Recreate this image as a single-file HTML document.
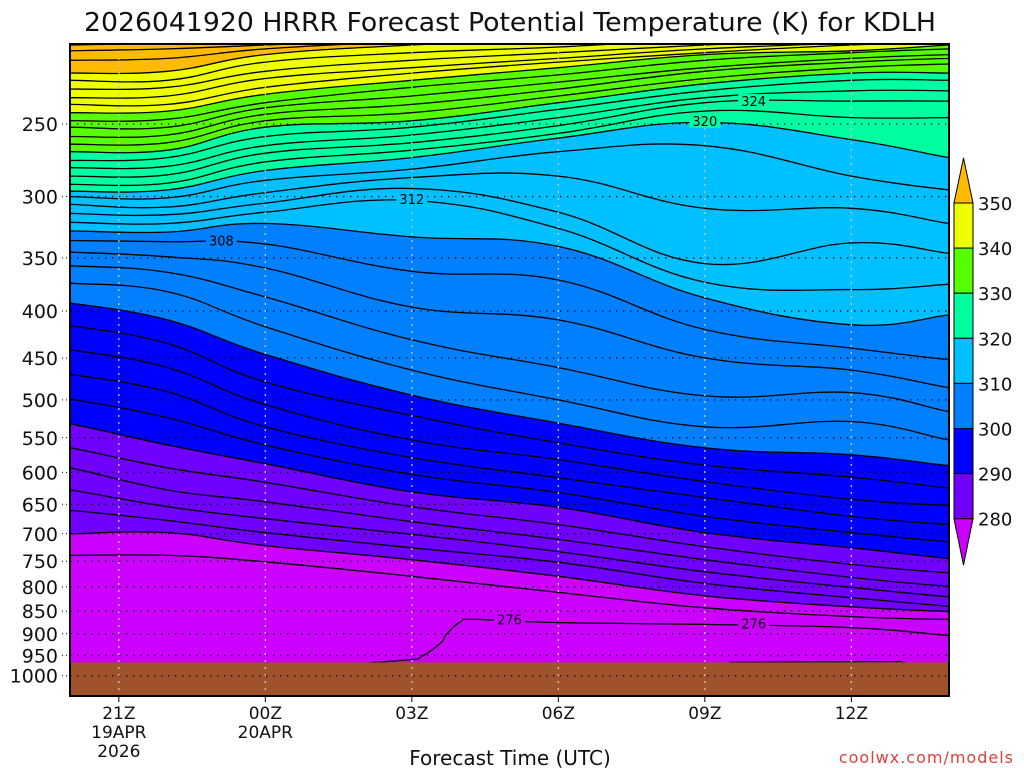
<!DOCTYPE html>
<html><head><meta charset="utf-8"><title>HRRR Potential Temperature KDLH</title>
<style>
html,body{margin:0;padding:0;background:#fff;}
svg{display:block;font-family:"DejaVu Sans","Liberation Sans",sans-serif;}
</style></head>
<body>
<svg id="chart" width="1024" height="768" viewBox="0 0 1024 768" xmlns="http://www.w3.org/2000/svg">
<defs><clipPath id="plotclip"><rect x="70" y="44" width="879" height="652"/></clipPath></defs>
<text x="510" y="31" text-anchor="middle" font-size="26" textLength="852" lengthAdjust="spacingAndGlyphs" fill="#111">2026041920 HRRR Forecast Potential Temperature (K) for KDLH</text>
<g id="fills" clip-path="url(#plotclip)"></g>
<g id="lines" clip-path="url(#plotclip)"></g>
<g id="grid"></g>
<g id="labels"></g>
<rect x="70" y="44" width="879" height="652" fill="none" stroke="#000" stroke-width="2"/>
<g id="yaxis"></g>
<g id="xaxis"></g>
<g id="cbar"></g>
<text x="510" y="765" text-anchor="middle" font-size="20" fill="#111">Forecast Time (UTC)</text>
<text x="1014" y="763" text-anchor="end" font-size="16" fill="#e0403a" letter-spacing="1">coolwx.com/models</text>
</svg>
<script>
// ---- data ----
const nodeHours = [0, 2, 4, 7, 10, 13, 16, 18];   // hours after 20Z 19 Apr
const levels = [356,354,352,350,348,346,344,342,340,338,336,334,332,330,328,326,324,322,320,318,316,314,312,310,308,306,304,302,300,298,296,294,292,290,288,286,284,282,280,278];
const isentropePressure = [
 [205,204,202,200,197,196,195,194],
 [208,207,205,202,199,197,196,195],
 [213,212,207,203,200,199,197,196],
 [220,219,210,205,202,200,199,197],
 [224,224,214,209,206,202,200,199],
 [229,228,219,213,209,205,202,201],
 [234,233,223,217,212,207,204,203],
 [238,238,228,220,214,209,205,204],
 [243,242,232,224,217,210,208,205],
 [248,247,237,228,221,213,209,207],
 [252,252,240,233,225,217,212,210],
 [258,257,244,238,229,219,214,212],
 [263,262,248,243,233,223,217,215],
 [268,267,252,248,237,226,220,220],
 [274,272,258,252,241,230,224,224],
 [279,278,264,257,246,234,230,230],
 [285,284,269,262,251,237,236,236],
 [291,290,275,267,256,242,246,246],
 [296,295,281,272,259,249,260,272],
 [300,301,288,280,268,264,285,295],
 [306,308,297,286,285,309,309,321],
 [313,314,305,294,312,355,337,346],
 [320,321,312,303,325,372,379,374],
 [327,328,321,332,340,387,414,404],
 [335,336,338,362,370,419,439,452],
 [345,349,359,396,409,450,464,485],
 [357,363,386,430,461,495,491,515],
 [373,381,416,464,500,535,528,553],
 [392,409,446,494,530,564,574,590],
 [415,434,478,520,557,589,607,624],
 [441,461,506,553,581,614,642,652],
 [469,490,535,578,608,639,670,684],
 [499,523,560,603,631,670,698,714],
 [531,560,587,630,655,698,725,745],
 [564,593,615,654,684,723,756,772],
 [593,627,646,679,710,747,781,799],
 [627,654,674,701,732,770,801,820],
 [660,677,698,725,752,793,822,840],
 [700,698,721,747,779,818,841,851],
 [739,739,751,779,811,843,862,868]
];
const hours276 = [5.9,7.0,7.2,7.6,7.7,8.0,8.3,10,13,16,18];
const press276 = [970,960,953,920,902,873,868,875,879,886,904];
const hours274 = [13.5,15,17.0,17.1,17.2];
const press274 = [967,966,965,968,977];
const groundPressure = 967;
const bandLevels = [280,290,300,310,320,330,340,350];
const bandColors = ["#7000ff","#0000ff","#0080ff","#00c0ff","#00ffa0","#55ff00","#eeff00","#ffbb00"];
const belowColor = "#cc00ff";
const pressureTicks = [250,300,350,400,450,500,550,600,650,700,750,800,850,900,950,1000];
const timeTickHours = [1,4,7,10,13,16];
const timeTickLabels = [["21Z","19APR","2026"],["00Z","20APR"],["03Z"],["06Z"],["09Z"],["12Z"]];
const cbarLabels = [350,340,330,320,310,300,290,280];
const contourLabelText = ["324","320","312","308","276","276"];
const contourLabelHour = [14.0,13.0,7.0,3.1,9.0,14.0];
const contourLabelPress = [236,248,302,335,868,877];

// ---- axes ----
const X0=70, X1=949, Y0=44, Y1=696;
function xOf(h){ return X0 + h*(X1-X0)/18; }
function yOf(p){ return 124 + 398*Math.log(p/250); }
const NS="http://www.w3.org/2000/svg";
function mk(tag, attrs, parent){ const e=document.createElementNS(NS,tag); for(const k in attrs) e.setAttribute(k,attrs[k]); parent.appendChild(e); return e; }
function ptArr(hs, ps){ return hs.map((h,i)=>[xOf(h), yOf(ps[i])]); }
// Catmull-Rom smoothing -> cubic bezier segments (without initial M)
function smoothSeg(P){
  let s="";
  for(let i=0;i<P.length-1;i++){
    const p0=P[Math.max(0,i-1)], p1=P[i], p2=P[i+1], p3=P[Math.min(P.length-1,i+2)];
    const t=0.2;
    const c1=[p1[0]+(p2[0]-p0[0])*t, p1[1]+(p2[1]-p0[1])*t];
    const c2=[p2[0]-(p3[0]-p1[0])*t, p2[1]-(p3[1]-p1[1])*t];
    s+=` C${c1[0].toFixed(1)},${c1[1].toFixed(1)} ${c2[0].toFixed(1)},${c2[1].toFixed(1)} ${p2[0].toFixed(1)},${p2[1].toFixed(1)}`;
  }
  return s;
}
function extend(P){ const a=P[0], b=P[P.length-1]; return [[a[0]-20,a[1]], ...P, [b[0]+20,b[1]]]; }

const fills=document.getElementById('fills'), lines=document.getElementById('lines');
let bg = mk('rect',{x:X0,y:Y0,width:X1-X0,height:Y1-Y0,fill:belowColor},fills);


bandLevels.forEach((lv,bi)=>{
  const row = isentropePressure[levels.indexOf(lv)];
  const P = extend(ptArr(nodeHours,row));
  const d = `M${P[0][0]},${P[0][1]}`+smoothSeg(P)+` L${P[P.length-1][0]},0 L${P[0][0]},0 Z`;
  const el = mk('path',{d:d,fill:bandColors[bi]},fills);
  
  
});
levels.forEach((lv,i)=>{
  const P = extend(ptArr(nodeHours,isentropePressure[i]));
  const el = mk('path',{d:`M${P[0][0]},${P[0][1]}`+smoothSeg(P),fill:"none",stroke:"#000","stroke-width":1.3},lines);
  
  
});
const P276=ptArr(hours276,press276);
let l276 = mk('path',{d:`M${P276[0][0]},${P276[0][1]}`+smoothSeg(P276),fill:"none",stroke:"#000","stroke-width":1.3},lines);


let l274 = mk('polyline',{points:ptArr(hours274,press274).map(p=>p.join(",")).join(" "),fill:"none",stroke:"#000","stroke-width":1.2},lines);


let gr = mk('rect',{x:X0,y:yOf(groundPressure),width:X1-X0,height:Y1-yOf(groundPressure),fill:"#a0522d"},lines);



// grid
const grid=document.getElementById('grid');
pressureTicks.forEach(p=>{
  const y=yOf(p);
  const g=mk('line',{x1:X0,x2:X1,y1:y,y2:y,stroke:"#000","stroke-width":1.3,"stroke-dasharray":"1.3,5.7"},grid);
  
  
});
timeTickHours.forEach(h=>{
  const x=xOf(h);
  const g=mk('line',{x1:x,x2:x,y1:Y0,y2:Y1,stroke:"#c8c8c8","stroke-width":1.3,"stroke-dasharray":"2,5"},grid);
  
  
});

// contour labels
function colorAt(hour,p){
  let c=belowColor;
  bandLevels.forEach((lv,bi)=>{
    const row=isentropePressure[levels.indexOf(lv)];
    let k=0; while(k<nodeHours.length-2 && nodeHours[k+1]<hour) k++;
    const f=(hour-nodeHours[k])/(nodeHours[k+1]-nodeHours[k]);
    const pl=row[k]+(row[k+1]-row[k])*f;
    if(p<pl) c=bandColors[bi];
  });
  return c;
}
const labs=document.getElementById('labels');
contourLabelText.forEach((t,i)=>{
  const x=xOf(contourLabelHour[i]), y=yOf(contourLabelPress[i]);
  const w=t.length*9+4;
  const r=mk('rect',{x:x-w/2,y:y-7,width:w,height:14,fill:colorAt(contourLabelHour[i],contourLabelPress[i])},labs);
  
  
  const tx=mk('text',{x:x,y:y+5,"text-anchor":"middle","font-size":13,fill:"#000"},labs);
  tx.textContent=t;
  
  
});

// y axis
const ya=document.getElementById('yaxis');
pressureTicks.forEach(p=>{
  const y=yOf(p);
  const t=mk('text',{x:58,y:y+7,"text-anchor":"end","font-size":19,fill:"#111"},ya);
  t.textContent=String(p);
  
  
  const tk=mk('line',{x1:62,x2:70,y1:y,y2:y,stroke:"#000","stroke-width":1,"stroke-dasharray":"1,3"},ya);
  
  
});
// x axis
const xa=document.getElementById('xaxis');
timeTickHours.forEach((h,i)=>{
  const x=xOf(h);
  const tk=mk('line',{x1:x,x2:x,y1:Y1,y2:Y1+6,stroke:"#000","stroke-width":1},xa);
  
  
  timeTickLabels[i].forEach((s,j)=>{
    const t=mk('text',{x:x,y:719+j*19,"text-anchor":"middle","font-size":17,fill:"#111"},xa);
    t.textContent=s;
    
    
  });
});
// colorbar
const cb=document.getElementById('cbar');
const cbX=954, cbW=19, cbTop=203, cbStep=45.1;
const up=mk('polygon',{points:`${cbX},${cbTop} ${cbX+cbW},${cbTop} ${cbX+cbW/2},158`,fill:bandColors[7],stroke:"#000","stroke-width":1},cb);


for(let i=0;i<7;i++){
  const r=mk('rect',{x:cbX,y:cbTop+i*cbStep,width:cbW,height:cbStep,fill:bandColors[6-i],stroke:"#000","stroke-width":1},cb);
  
  
}
const dn=mk('polygon',{points:`${cbX},${cbTop+7*cbStep} ${cbX+cbW},${cbTop+7*cbStep} ${cbX+cbW/2},565`,fill:belowColor,stroke:"#000","stroke-width":1},cb);


cbarLabels.forEach((v,i)=>{
  const t=mk('text',{x:978,y:cbTop+i*cbStep+7,"font-size":18,fill:"#111"},cb);
  t.textContent=String(v);
  
  
});
</script>
</body></html>
